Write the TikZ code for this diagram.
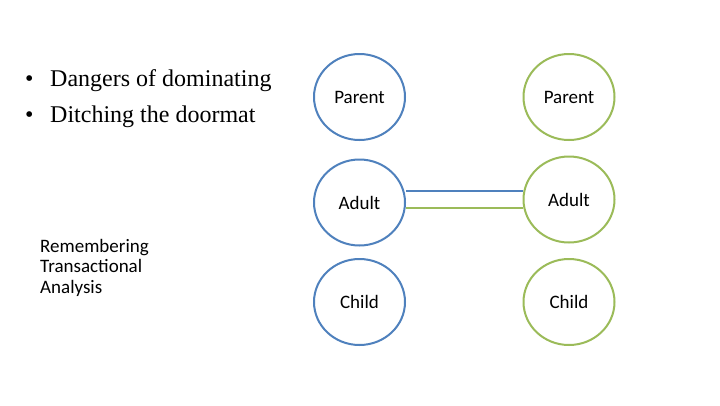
\documentclass[tikz,border=0pt]{standalone}
\usepackage{fontspec}
\setmainfont{Carlito}
\newfontfamily\serifft{Liberation Serif}
\definecolor{ablue}{HTML}{4F81BD}
\definecolor{agreen}{HTML}{9BBB59}
\tikzset{
  egoblue/.style={draw=ablue, line width=2pt, ellipse, minimum width=91pt, minimum height=86pt, inner sep=0pt, font=\fontsize{19}{22}\selectfont},
  egogreen/.style={egoblue, draw=agreen},
  bullettext/.style={anchor=base west, inner sep=0pt, font=\serifft\fontsize{24}{27}\selectfont},
  sidetext/.style={anchor=base west, inner sep=0pt, align=left, font=\fontsize{19}{20.5}\selectfont},
  linkline/.style={line width=1.8pt},
}
\usetikzlibrary{shapes.geometric}
\begin{document}
\begin{tikzpicture}[x=1pt,y=-1pt]
\useasboundingbox[fill=white] (0,0) rectangle (720,405);
\node[bullettext] (b1d) at (25,86) {\textbullet};
\node[bullettext] (b1) at (50,86) {Dangers of dominating};
\node[bullettext] (b2d) at (25,122) {\textbullet};
\node[bullettext] (b2) at (50,122) {Ditching the doormat};
\node[sidetext] (rta) at (40,293) {Remembering\\Transactional\\Analysis};
\node[egoblue] (pl) at (359.5,97) {Parent};
\node[egoblue] (al) at (359.5,202.5) {Adult};
\node[egoblue] (cl) at (359.5,302) {Child};
\node[egogreen] (pr) at (569,97) {Parent};
\node[egogreen] (ar) at (569,199.5) {Adult};
\node[egogreen] (cr) at (569,302) {Child};
\coordinate (yb) at (0,191);
\coordinate (yg) at (0,208);
\draw[linkline, draw=ablue] (al.east |- yb) -- (ar.west |- yb);
\draw[linkline, draw=agreen] (al.east |- yg) -- (ar.west |- yg);
\end{tikzpicture}
\end{document}
